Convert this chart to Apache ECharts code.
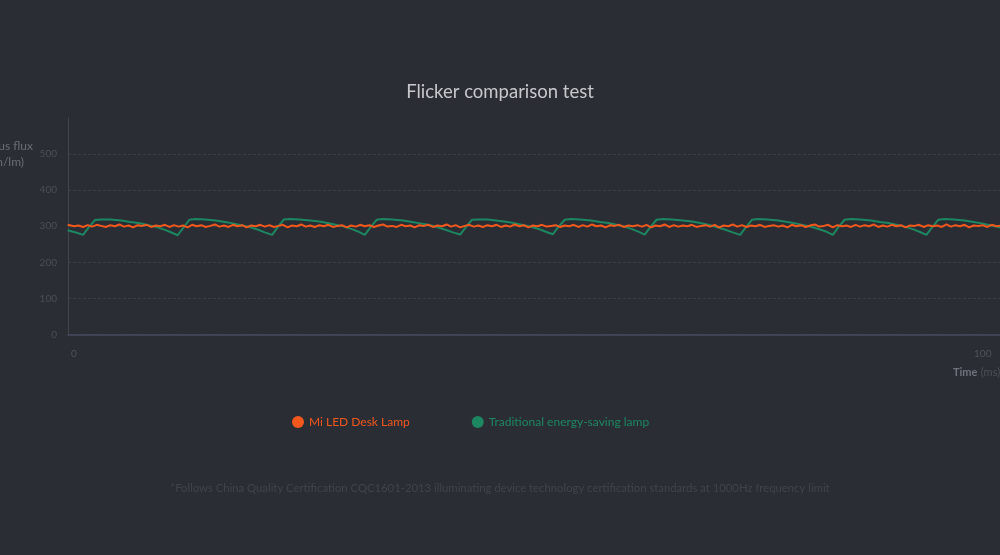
<!DOCTYPE html>
<html>
<head>
<meta charset="utf-8">
<script src="https://cdn.jsdelivr.net/npm/echarts@6/dist/echarts.min.js"></script>
<style>
html,body{margin:0;padding:0;background:#2a2d33;}
#chart{width:1000px;height:555px;}
</style>
</head>
<body>
<div id="chart"></div>
<script>
var titleText = 'Flicker comparison test';
var seriesNames = ['Mi LED Desk Lamp', 'Traditional energy-saving lamp'];
var yTicks = [0, 100, 200, 300, 400, 500];
var xTickLabels = [0, 100];
var yAxisNameLines = ['Luminous flux', '(lm/lm)'];
var xAxisNameMain = 'Time';
var xAxisNameUnit = '(ms)';
var footnote = '*Follows China Quality Certification CQC1601-2013 illuminating device technology certification standards at 1000Hz frequency limit';

// Mi LED Desk Lamp samples (time in ms, luminous flux)
var ledTimes = [
-0.7,0,0.5,1,1.5,2,2.5,3,3.5,4,
4.5,5,5.5,6,6.5,7,7.5,8,8.5,9,
9.5,10,10.5,11,11.5,12,12.5,13,13.5,14,
14.5,15,15.5,16,16.5,17,17.5,18,18.5,19,
19.5,20,20.5,21,21.5,22,22.5,23,23.5,24,
24.5,25,25.5,26,26.5,27,27.5,28,28.5,29,
29.5,30,30.5,31,31.5,32,32.5,33,33.5,34,
34.5,35,35.5,36,36.5,37,37.5,38,38.5,39,
39.5,40,40.5,41,41.5,42,42.5,43,43.5,44,
44.5,45,45.5,46,46.5,47,47.5,48,48.5,49,
49.5,50,50.5,51,51.5,52,52.5,53,53.5,54,
54.5,55,55.5,56,56.5,57,57.5,58,58.5,59,
59.5,60,60.5,61,61.5,62,62.5,63,63.5,64,
64.5,65,65.5,66,66.5,67,67.5,68,68.5,69,
69.5,70,70.5,71,71.5,72,72.5,73,73.5,74,
74.5,75,75.5,76,76.5,77,77.5,78,78.5,79,
79.5,80,80.5,81,81.5,82,82.5,83,83.5,84,
84.5,85,85.5,86,86.5,87,87.5,88,88.5,89,
89.5,90,90.5,91,91.5,92,92.5,93,93.5,94,
94.5,95,95.5,96,96.5,97,97.5,98,98.5,99,
99.5,100,100.5,101,101.5,102,102.5,103,103.5,104,
104.5,105
];
var ledValues = [
304,300,302,298,303,299,304,301,298,303,
300,305,299,302,297,303,301,304,298,302,
300,304,298,303,299,302,297,304,300,303,
298,301,305,299,302,298,304,300,303,297,
302,300,304,299,303,298,301,304,297,302,
300,305,299,302,298,303,300,304,298,301,
303,297,302,299,304,300,303,298,302,305,
299,301,298,304,300,302,297,303,301,304,
298,302,300,305,299,303,297,301,304,299,
302,298,303,300,304,298,302,299,305,300,
303,297,302,300,304,299,301,303,298,302,
300,304,298,303,299,305,300,302,297,303,
301,304,298,302,300,303,299,304,297,302,
300,305,298,303,299,302,300,304,298,301,
303,299,304,297,302,300,305,299,303,298,
302,300,304,298,301,303,299,302,297,304,
300,303,298,302,305,299,301,304,297,303,
300,302,298,304,299,303,300,305,298,302,
299,304,300,303,297,302,301,304,298,303,
300,302,298,305,299,303,300,304,297,302,
301,303,298,304,300,302,299,303,298,304,
300,302
];

// Traditional energy-saving lamp samples (time in ms, luminous flux)
var lampTimes = [
-0.7,0.3,
1.0,1.6,2.3,3.0,4.0,5.2,6.2,7.1,8.0,8.9,9.8,10.6,
11.4,12.0,12.7,13.4,14.4,15.6,16.6,17.5,18.4,19.3,20.2,21.0,
21.8,22.4,23.1,23.8,24.8,26.0,27.0,27.9,28.8,29.7,30.6,31.4,
32.0,32.6,33.3,34.0,35.0,36.2,37.2,38.1,39.0,39.9,40.8,41.7,
42.5,43.1,43.8,44.5,45.5,46.7,47.7,48.6,49.5,50.4,51.3,52.0,
52.7,53.3,54.0,54.7,55.7,56.9,57.9,58.8,59.7,60.6,61.4,62.1,
62.8,63.4,64.1,64.8,65.8,67.0,68.0,68.9,69.8,70.7,71.6,72.5,
73.3,73.9,74.6,75.3,76.3,77.5,78.5,79.4,80.3,81.2,82.1,82.9,
83.5,84.1,84.8,85.5,86.5,87.7,88.7,89.6,90.5,91.4,92.3,93.1,
93.8,94.4,95.1,95.8,96.8,98.0,99.0,99.9,100.8,101.7,102.6,103.4
];
var lampValues = [
289,282,
276,296,317,319,319,316,312,309,304,299,292,284,
275,295,318,320,319,316,312,308,303,298,291,283,
276,297,319,320,319,316,313,309,304,299,292,284,
276,296,318,320,319,316,312,308,304,298,291,283,
277,297,318,319,319,315,312,308,303,298,291,284,
278,298,318,320,319,316,312,309,304,299,292,285,
277,297,318,320,319,316,313,309,304,298,291,283,
276,296,318,320,319,316,312,308,303,298,291,284,
276,297,318,320,319,316,312,309,304,299,292,284,
276,296,318,320,319,316,312,308,303,298,291,284
];

function zip(xs, ys) {
  var out = [];
  for (var i = 0; i < xs.length; i++) out.push([xs[i], ys[i]]);
  return out;
}

var ORANGE = '#f2571c';
var GREEN = '#1d8762';
var FONT = 'Lato, "Open Sans", sans-serif';

var chart = echarts.init(document.getElementById('chart'), null, {renderer: 'canvas'});
chart.setOption({
  backgroundColor: '#2a2d33',
  animation: false,
  textStyle: {fontFamily: FONT},
  title: {
    text: titleText,
    left: 'center',
    top: 78,
    textStyle: {color: '#c6c8cc', fontSize: 18.5, fontWeight: 'normal', fontFamily: FONT}
  },
  legend: {
    top: 411,
    left: 287,
    itemWidth: 12,
    itemHeight: 12,
    itemGap: 62,
    icon: 'circle',
    data: [
      {name: seriesNames[0], textStyle: {color: ORANGE}},
      {name: seriesNames[1], textStyle: {color: GREEN}}
    ],
    textStyle: {fontSize: 12, fontFamily: FONT}
  },
  grid: {left: 68, right: 0, top: 118, bottom: 220.5, containLabel: false},
  xAxis: {
    type: 'value',
    min: -0.66,
    max: 101.9,
    axisLine: {show: true, onZero: false, lineStyle: {color: '#464b60', width: 1.5}},
    axisTick: {show: false},
    splitLine: {show: false},
    axisLabel: {
      customValues: xTickLabels,
      color: '#50545b',
      fontSize: 10,
      margin: 14,
      fontFamily: FONT
    }
  },
  yAxis: {
    type: 'value',
    min: 0,
    max: 600,
    interval: 100,
    axisLine: {show: true, onZero: false, lineStyle: {color: '#41454c', width: 1}},
    axisTick: {show: false},
    axisLabel: {
      color: '#4b4f56',
      fontSize: 10,
      margin: 11,
      fontFamily: FONT,
      formatter: function (v) { return yTicks.indexOf(v) >= 0 ? String(v) : ''; }
    },
    splitLine: {
      show: true,
      lineStyle: {
        color: ['#3a3e46', '#3a3e46', '#3a3e46', '#3a3e46', '#3a3e46', '#3a3e46', 'rgba(0,0,0,0)'],
        type: [3, 2],
        width: 1
      }
    }
  },
  graphic: [
    {type: 'text', x: 33, y: 146, style: {text: yAxisNameLines[0], fill: '#6a6e75', font: '12px ' + FONT, textAlign: 'right', textVerticalAlign: 'middle'}},
    {type: 'text', x: 24, y: 162, style: {text: yAxisNameLines[1], fill: '#6a6e75', font: '12px ' + FONT, textAlign: 'right', textVerticalAlign: 'middle'}},
    {type: 'text', x: 953, y: 372, style: {
      text: '{a|' + xAxisNameMain + '} {b|' + xAxisNameUnit + '}',
      rich: {
        a: {fill: '#6e727a', font: 'bold 11px ' + FONT},
        b: {fill: '#4c5057', font: '11px ' + FONT}
      },
      textVerticalAlign: 'middle'
    }},
    {type: 'text', x: 500, y: 488, style: {text: footnote, fill: '#40444b', font: '11.3px ' + FONT, textAlign: 'center', textVerticalAlign: 'middle'}}
  ],
  series: [
    {
      name: seriesNames[1],
      type: 'line',
      data: zip(lampTimes, lampValues),
      showSymbol: false,
      symbol: 'none',
      color: GREEN,
      lineStyle: {color: GREEN, width: 2},
      z: 2
    },
    {
      name: seriesNames[0],
      type: 'line',
      data: zip(ledTimes, ledValues),
      showSymbol: false,
      symbol: 'none',
      color: ORANGE,
      lineStyle: {color: ORANGE, width: 2},
      z: 3
    }
  ]
});
</script>
</body>
</html>
